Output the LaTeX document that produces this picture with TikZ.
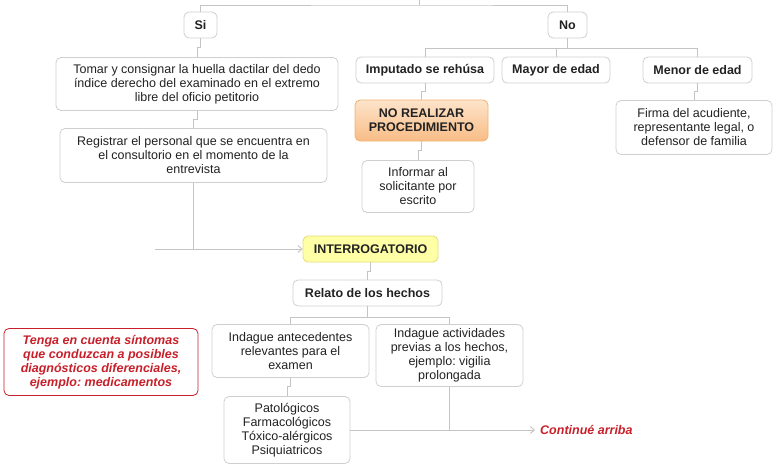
\documentclass[tikz,border=0pt]{standalone}
\usepackage{fontspec}
\setmainfont{Liberation Sans}
\usetikzlibrary{arrows.meta}
\frenchspacing
\definecolor{bord}{HTML}{CFCFCF}
\definecolor{conn}{HTML}{C4C4C4}
\definecolor{txt}{HTML}{222222}
\definecolor{redc}{HTML}{C8202A}
\definecolor{yelf}{HTML}{FFFFA6}
\definecolor{yelb}{HTML}{E6DC78}
\definecolor{orat}{HTML}{FDE4CA}
\definecolor{orab}{HTML}{F8BC86}
\definecolor{orbd}{HTML}{F0B272}
\tikzset{
  box/.style={draw=bord, line width=0.8pt, rounded corners=5pt, fill=white, align=center,
    inner sep=0pt, text=txt, font=\fontsize{12.5}{14}\selectfont},
  bbox/.style={box, font=\fontsize{12.5}{14}\selectfont\bfseries},
  link/.style={draw=conn, line width=0.9pt},
  arr/.style={link, -{Straight Barb[length=4pt,width=7pt,line width=0.9pt]}},
}
\begin{document}
\begin{tikzpicture}[x=1pt,y=-1pt]
\useasboundingbox (0,0) rectangle (783,469);

% top-level nodes
\node[bbox, minimum width=33, minimum height=26] (si) at (200.5,25) {Si};
\node[bbox, minimum width=39, minimum height=26] (no) at (567.5,25) {No};
\node[box, minimum width=282, minimum height=53] (tomar) at (197,84)
  {Tomar y consignar la huella dactilar del dedo\\índice derecho del examinado en el extremo\\libre del oficio petitorio};
\node[box, minimum width=267, minimum height=54] (reg) at (193.5,155.5)
  {Registrar el personal que se encuentra en\\el consultorio en el momento de la\\entrevista};

\node[bbox, minimum width=138, minimum height=26] (imp) at (425,70) {Imputado se rehúsa};
\node[bbox, minimum width=108, minimum height=26] (mayor) at (556,70) {Mayor de edad};
\node[bbox, minimum width=109, minimum height=26] (menor) at (697.5,70) {Menor de edad};
\node[bbox, draw=orbd, top color=orat, bottom color=orab, minimum width=133, minimum height=41] (nor) at (421.5,120.5)
  {NO REALIZAR\\PROCEDIMIENTO};
\node[box, minimum width=112, minimum height=52] (inf) at (418,186.5)
  {Informar al\\solicitante por\\escrito};
\node[box, minimum width=156, minimum height=54] (firma) at (694,127.5)
  {Firma del acudiente,\\representante legal, o\\defensor de familia};

\node[bbox, draw=yelb, fill=yelf, minimum width=135, minimum height=26] (inter) at (370.5,249) {INTERROGATORIO};
\node[bbox, minimum width=149, minimum height=26] (relato) at (367.5,293) {Relato de los hechos};
\node[box, minimum width=157, minimum height=53] (ante) at (290.5,351)
  {Indague antecedentes\\relevantes para el\\examen};
\node[box, minimum width=147, minimum height=62] (act) at (449.5,355.5)
  {Indague actividades\\previas a los hechos,\\ejemplo: vigilia\\prolongada};
\node[box, minimum width=126, minimum height=67] (pato) at (287,430)
  {Patológicos\\Farmacológicos\\Tóxico-alérgicos\\Psiquiatricos};
\node[box, draw=redc, text=redc, font=\fontsize{12.5}{14}\selectfont\bfseries\itshape,
  minimum width=194, minimum height=67] (tenga) at (101,362)
  {Tenga en cuenta síntomas\\que conduzcan a posibles\\diagnósticos diferenciales,\\ejemplo: medicamentos};
\node[text=redc, font=\fontsize{12.5}{14}\selectfont\bfseries\itshape, anchor=west, inner sep=0pt] (cont) at (540,430) {Continué arriba};

% coordinates
\coordinate (topc) at (419,0);
\coordinate (leftin) at (155,249);

% connectors
\draw[link] (topc) -- (419,5);
\draw[link] (si.north) |- (419,5) -| (no.north);
\draw[link] (si.south) -- ++(0,9) -| (tomar.north);
\draw[link] (tomar.south) -- ++(0,9) -| (reg.north);
\draw[link] (reg.south) -- (reg.south |- leftin);
\draw[arr] (leftin) -- (inter.west);

\draw[link] (no.south) -- ++(0,10) coordinate (nj);
\draw[link] (imp.north) |- (nj) -| (menor.north);
\draw[link] (mayor.north) -- (mayor.north |- nj);
\draw[link] (imp.south) -- ++(0,8) -| (nor.north);
\draw[link] (nor.south) -- ++(0,9) -| (inf.north);
\draw[link] (menor.south) -- ++(0,8) -| (firma.north);

\draw[link] (inter.south) -- ++(0,9) -| (relato.north);
\draw[link] (relato.south) -- ++(0,11) coordinate (rj);
\draw[link] (ante.north) |- (rj) -| (act.north);
\draw[link] (ante.south) -- ++(0,9) -| (pato.north);
\draw[link] (act.south) -- (act.south |- pato.east);
\draw[arr] (pato.east) -- (cont.west -| 535,0);
\end{tikzpicture}
\end{document}
